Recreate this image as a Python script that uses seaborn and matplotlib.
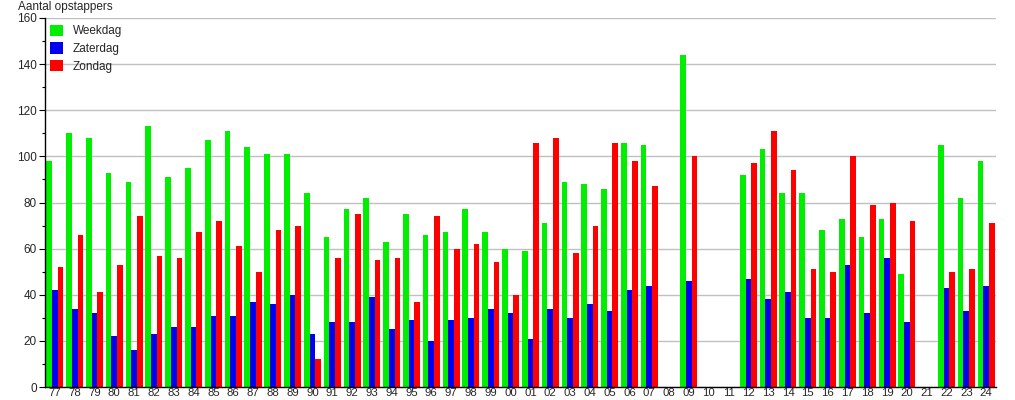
import numpy as np
import pandas as pd
import matplotlib
matplotlib.use("Agg")
import matplotlib.pyplot as plt
from matplotlib.ticker import MultipleLocator
import seaborn as sns

sns.set_theme(style="white")
plt.rcParams["font.family"] = ["Liberation Sans", "DejaVu Sans"]

# jaartallen 1977 - 2024
years = ["77", "78", "79", "80", "81", "82", "83", "84", "85", "86", "87", "88",
         "89", "90", "91", "92", "93", "94", "95", "96", "97", "98", "99", "00",
         "01", "02", "03", "04", "05", "06", "07", "08", "09", "10", "11", "12",
         "13", "14", "15", "16", "17", "18", "19", "20", "21", "22", "23", "24"]

nan = np.nan
weekdag = [98, 110, 108, 93, 89, 113, 91, 95, 107, 111, 104, 101,
           101, 84, 65, 77, 82, 63, 75, 66, 67, 77, 67, 60,
           59, 71, 89, 88, 86, 106, 105, nan, 144, nan, nan, 92,
           103, 84, 84, 68, 73, 65, 73, 49, nan, 105, 82, 98]
zaterdag = [42, 34, 32, 22, 16, 23, 26, 26, 31, 31, 37, 36,
            40, 23, 28, 28, 39, 25, 29, 20, 29, 30, 34, 32,
            21, 34, 30, 36, 33, 42, 44, nan, 46, nan, nan, 47,
            38, 41, 30, 30, 53, 32, 56, 28, nan, 43, 33, 44]
zondag = [52, 66, 41, 53, 74, 57, 56, 67, 72, 61, 50, 68,
          70, 12, 56, 75, 55, 56, 37, 74, 60, 62, 54, 40,
          106, 108, 58, 70, 106, 98, 87, nan, 100, nan, nan, 97,
          111, 94, 51, 50, 100, 79, 80, 72, nan, 50, 51, 71]

series = ["Weekdag", "Zaterdag", "Zondag"]
colors = ["#00ee00", "#0000ee", "#ff0000"]

df = pd.DataFrame({"jaar": years, "Weekdag": weekdag,
                   "Zaterdag": zaterdag, "Zondag": zondag})
long = df.melt(id_vars="jaar", var_name="dag", value_name="aantal").dropna()

fig = plt.figure(figsize=(10.15, 4.0), dpi=100)
ax = fig.add_axes([0.0443, 0.0325, 0.937, 0.9225])

sns.barplot(data=long, x="jaar", y="aantal", hue="dag", order=years,
            hue_order=series, palette=colors, width=0.86, saturation=1,
            linewidth=0, errorbar=None, ax=ax)

ax.set_ylim(0, 160)
ax.set_xlim(-0.5, len(years) - 0.5)
ax.yaxis.set_major_locator(MultipleLocator(20))
ax.yaxis.set_minor_locator(MultipleLocator(10))
ax.grid(axis="y", which="major", color="#c0c0c0", linewidth=1)
ax.set_axisbelow(True)

for side in ["top", "right"]:
    ax.spines[side].set_visible(False)
ax.spines["left"].set_color("black")
ax.spines["bottom"].set_color("black")
ax.spines["left"].set_linewidth(1)
ax.spines["bottom"].set_linewidth(1)

ax.tick_params(axis="y", which="major", left=True, length=4, width=0.8,
               color="black", labelsize=8.5, pad=2)
ax.tick_params(axis="y", which="minor", left=True, length=2, width=0.8,
               color="black")
ax.tick_params(axis="x", bottom=False, length=0, labelsize=8.2, pad=0.5)
ax.set_xlabel("")
ax.set_ylabel("")

fig.text(0.018, 0.997, "Aantal opstappers", fontsize=8.5, va="top", ha="left")

leg = ax.legend(loc="upper left", bbox_to_anchor=(0.0, 0.995), frameon=False,
                fontsize=8.5, handlelength=1.15, handleheight=1.15,
                handletextpad=0.8, labelspacing=0.4, borderaxespad=0.1,
                borderpad=0.3)

fig.savefig("out.png", dpi=100)
